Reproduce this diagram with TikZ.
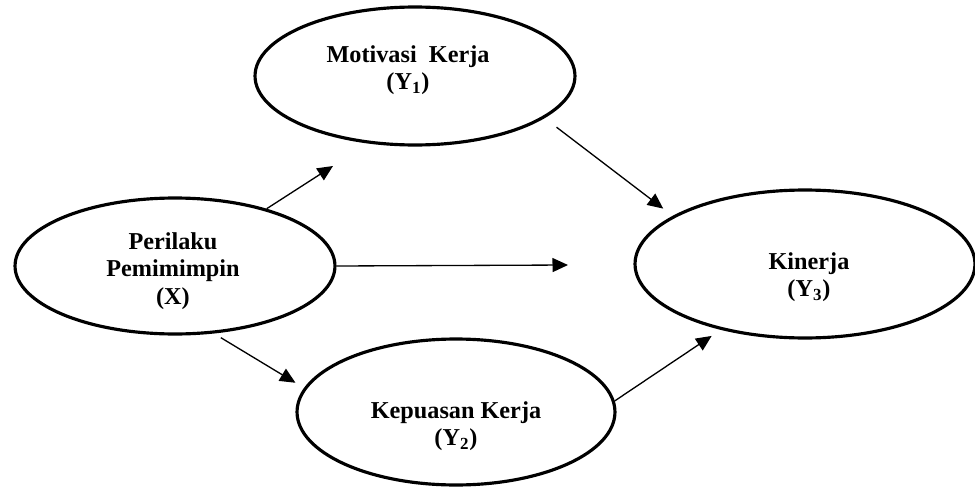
\documentclass[tikz,border=0pt]{standalone}
\usepackage{fontspec}
\setmainfont{Liberation Serif}
\usetikzlibrary{arrows.meta,shapes.geometric}

\begin{document}
\begin{tikzpicture}[x=0.02cm,y=-0.02cm,
  var/.style={draw,ellipse,line width=1.8pt,inner sep=0pt},
  txt/.style={font=\fontsize{13.8}{15.5}\selectfont\bfseries,align=center},
  path/.style={-{Triangle[length=0.31cm,width=0.28cm]},line width=0.75pt}]
  \useasboundingbox (0,0) rectangle (975,487);
  % Variables
  \node[var,minimum width=6.4cm,minimum height=2.76cm] (mot) at (415,76) {};
  \node[var,minimum width=6.4cm,minimum height=2.72cm] (per) at (175,266) {};
  \node[var,minimum width=6.8cm,minimum height=2.96cm] (kin) at (805,264) {};
  \node[var,minimum width=6.36cm,minimum height=2.92cm] (kep) at (456,412) {};
  % Labels
  \node[txt] (motl) at (408,70) {Motivasi~ Kerja\\(Y\textsubscript{1})};
  \node[txt] (perl) at (173,271) {Perilaku\\Pemimimpin\\(X)};
  \node[txt] (kinl) at (809,277) {Kinerja\\(Y\textsubscript{3})};
  \node[txt] (kepl) at (456,426) {Kepuasan Kerja\\(Y\textsubscript{2})};
  % Free arrow ends
  \coordinate (m1) at (333,166);
  \coordinate (k1) at (568,265);
  % Paths
  \draw[path] (per.32) -- (m1);
  \draw[path] (per.east) -- (k1);
  \draw[path,shorten <=0.16cm,shorten >=0.2cm] (per.-60) -- (kep.171);
  \draw[path,shorten <=0.3cm,shorten >=0.24cm] (mot.-18) -- (kin.160);
  \draw[path,shorten >=0.22cm] (kep.4) -- (kin.218);
\end{tikzpicture}
\end{document}
